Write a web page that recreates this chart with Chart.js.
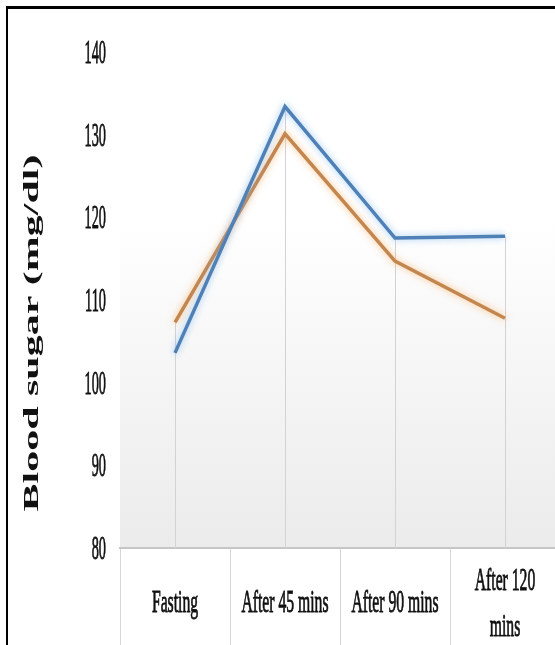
<!DOCTYPE html>
<html>
<head>
<meta charset="utf-8">
<script src="https://cdn.jsdelivr.net/npm/chart.js@4.4.1/dist/chart.umd.min.js"></script>
<style>
  html, body { margin: 0; padding: 0; background: #fff; overflow: hidden; }
  #wrap { position: relative; width: 555px; height: 645px; overflow: hidden; }
  #box { position: absolute; left: 0; top: 0; width: 570px; height: 645px; }
  #frame { position: absolute; left: 6px; top: 6px; right: -10px; bottom: -10px;
           border-top: 3px solid #000; border-left: 2px solid #000; pointer-events: none; }
</style>
</head>
<body>
<div id="wrap">
  <div id="box"><canvas id="c" width="570" height="645"></canvas></div>
  <div id="frame"></div>
</div>
<script>
// Time points (multi-line labels as arrays)
const categories = [['Fasting'], ['After 45 mins'], ['After 90 mins'], ['After 120', 'mins']];
// Blood sugar readings, mg/dl
const seriesBlue = [103.6, 133.4, 117.5, 117.7];
const seriesOrange = [107.3, 130.1, 114.7, 107.8];
// Value axis
const yTicks = [80, 90, 100, 110, 120, 130, 140];
const yTitle = 'Blood sugar (mg/dl)';

// Condensed serif text: drawn with a horizontal squeeze and a hairline stroke
function squeezed(ctx, str, x, y, sx, align) {
  ctx.save();
  ctx.translate(x, y);
  ctx.scale(sx, 1);
  ctx.textAlign = align;
  ctx.fillText(str, 0, 0);
  ctx.lineWidth = 0.9;
  ctx.strokeText(str, 0, 0);
  ctx.restore();
}

const decor = {
  id: 'decor',
  beforeDraw(chart) {
    const { ctx, chartArea: a } = chart;
    const g = ctx.createLinearGradient(0, a.top, 0, a.bottom);
    g.addColorStop(0, '#ffffff');
    g.addColorStop(0.33, '#ffffff');
    g.addColorStop(1, '#ebebeb');
    ctx.save();
    ctx.fillStyle = g;
    ctx.fillRect(a.left, a.top, a.right - a.left, a.bottom - a.top);
    ctx.restore();
  },
  beforeDatasetsDraw(chart) {
    // drop lines from the highest reading at each time point down to the axis
    const { ctx, scales: { x, y } } = chart;
    ctx.save();
    ctx.strokeStyle = '#d3d3d3';
    ctx.lineWidth = 1;
    categories.forEach((c, i) => {
      const top = Math.max(seriesBlue[i], seriesOrange[i]);
      const px = Math.round(x.getPixelForValue(i)) + 0.5;
      ctx.beginPath();
      ctx.moveTo(px, y.getPixelForValue(top));
      ctx.lineTo(px, y.bottom);
      ctx.stroke();
    });
    ctx.restore();
  },
  beforeDatasetDraw(chart, args) {
    const ds = chart.data.datasets[args.index];
    chart.ctx.save();
    chart.ctx.shadowColor = ds.glowColor;
    chart.ctx.shadowBlur = 7;
  },
  afterDatasetDraw(chart) {
    chart.ctx.restore();
  },
  afterDraw(chart) {
    const { ctx, scales: { x, y } } = chart;
    ctx.save();
    ctx.fillStyle = '#111';
    ctx.strokeStyle = '#111';

    // value axis labels
    ctx.font = '34px "Liberation Serif", serif';
    ctx.textBaseline = 'middle';
    yTicks.forEach(v => squeezed(ctx, String(v), 106, y.getPixelForValue(v) + 2, 0.42, 'right'));

    // time point labels
    ctx.font = '32px "Liberation Serif", serif';
    ctx.textBaseline = 'alphabetic';
    categories.forEach((lines, i) => {
      const cx = x.getPixelForValue(i);
      if (lines.length === 1) {
        squeezed(ctx, lines[0], cx, 612, 0.49, 'center');
      } else {
        squeezed(ctx, lines[0], cx, 590, 0.49, 'center');
        squeezed(ctx, lines[1], cx, 636, 0.49, 'center');
      }
    });

    // axis title, rotated
    ctx.font = 'bold 40px "Liberation Serif", serif';
    ctx.textBaseline = 'middle';
    const w = ctx.measureText(yTitle).width;
    ctx.translate(32, 333);
    ctx.rotate(-Math.PI / 2);
    ctx.scale(357 / w, 0.55);
    ctx.textAlign = 'center';
    ctx.fillText(yTitle, 0, 0);
    ctx.restore();
  }
};

new Chart(document.getElementById('c'), {
  type: 'line',
  data: {
    labels: categories.map(c => c.join(' ')),
    datasets: [
      {
        data: seriesBlue,
        borderColor: '#4f80b6',
        glowColor: 'rgba(120,180,240,0.75)',
        borderWidth: 3.5,
        pointRadius: 0,
        tension: 0
      },
      {
        data: seriesOrange,
        borderColor: '#c4864f',
        glowColor: 'rgba(250,170,90,0.75)',
        borderWidth: 3.5,
        pointRadius: 0,
        tension: 0
      }
    ]
  },
  options: {
    responsive: false,
    animation: false,
    events: [],
    layout: { padding: { left: 120, right: 10, top: 52, bottom: 0 } },
    plugins: { legend: { display: false }, tooltip: { enabled: false } },
    scales: {
      x: {
        offset: true,
        grid: { offset: true, drawOnChartArea: false, drawTicks: true, tickLength: 97, color: '#d6d6d6', lineWidth: 1 },
        border: { display: true, color: '#c6c6c6', width: 2 },
        ticks: { display: false }
      },
      y: {
        display: false,
        min: 80,
        max: 140
      }
    }
  },
  plugins: [decor]
});
</script>
</body>
</html>
